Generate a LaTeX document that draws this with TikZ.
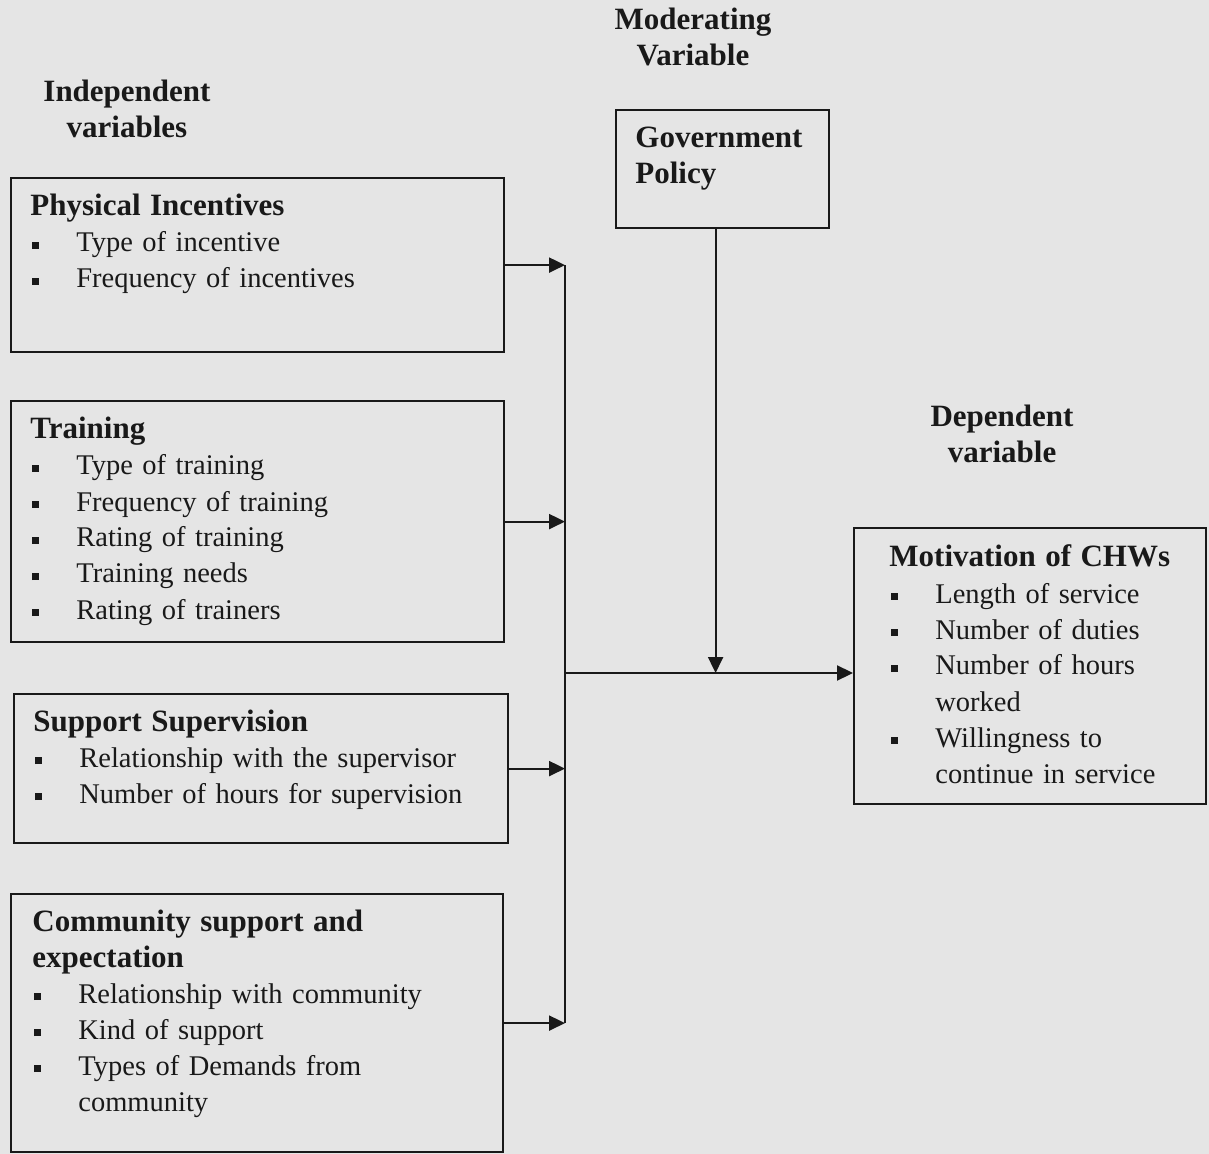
\documentclass[tikz,border=0pt]{standalone}
\usepackage{fontspec}
\setmainfont{Liberation Serif}
\usetikzlibrary{arrows.meta,positioning,calc}

\definecolor{paper}{gray}{0.9}
\definecolor{ink}{gray}{0.1}

% bullet item and hanging indent
\newcommand{\bul}{\makebox[23pt][l]{\hspace{1pt}\rule[1.5pt]{3.5pt}{3.5pt}}}
\newcommand{\cont}{\hspace*{23pt}}
\newcommand{\hfont}{\fontsize{15.5}{18}\selectfont\bfseries}

\begin{document}
\begin{tikzpicture}[x=0.5pt,y=-0.5pt,
  box/.style={draw=ink,line width=1.1pt,inner sep=0pt,anchor=north west},
  txt/.style={anchor=base west,inner sep=0pt,text width=230pt,align=left,text=ink,
    font=\fontsize{14.25}{18}\selectfont},
  hd/.style={anchor=base,inner sep=0pt,text width=140pt,align=center,text=ink,font=\hfont},
  arr/.style={draw=ink,line width=1.1pt,-{Triangle[length=8pt,width=7.5pt]}},
  bus/.style={draw=ink,line width=1.1pt}]
  \fill[paper] (0,0) rectangle (1209,1154);
  \useasboundingbox (0,0) rectangle (1209,1154);

  % headings
  \node[hd] (indep) at (127,102) {Independent\\variables};
  \node[hd] (moder) at (693,30) {Moderating\\Variable};
  \node[hd] (dep) at (1002,427) {Dependent\\variable};

  % boxes
  \node[box,minimum width=246.5pt,minimum height=87pt] (phys) at (10,177) {};
  \node[box,minimum width=246.5pt,minimum height=120.5pt] (train) at (10,400) {};
  \node[box,minimum width=247pt,minimum height=74.5pt] (superv) at (13,693) {};
  \node[box,minimum width=246pt,minimum height=129pt] (comm) at (10,893) {};
  \node[box,minimum width=106.5pt,minimum height=59pt] (gov) at (615,109) {};
  \node[box,minimum width=176pt,minimum height=138pt] (motiv) at (853,527) {};

  % box texts
  \node[txt] (phys-t) at (30,216) {{\hfont Physical Incentives}\\
    \bul Type of incentive\\
    \bul Frequency of incentives};
  \node[txt] (train-t) at (30,439) {{\hfont Training}\\
    \bul Type of training\\
    \bul Frequency of training\\
    \bul Rating of training\\
    \bul Training needs\\
    \bul Rating of trainers};
  \node[txt] (superv-t) at (33,731) {{\hfont Support Supervision}\\
    \bul Relationship with the supervisor\\
    \bul Number of hours for supervision};
  \node[txt] (comm-t) at (32,931) {{\hfont Community support and}\\
    {\hfont expectation}\\
    \bul Relationship with community\\
    \bul Kind of support\\
    \bul Types of Demands from\\
    \cont community};
  \node[txt] (gov-t) at (635,148) {{\hfont Government}\\
    {\hfont Policy}};
  \node[txt] (motiv-t) at (889,567) {{\hfont Motivation of CHWs}\\
    \bul Length of service\\
    \bul Number of duties\\
    \bul Number of hours\\
    \cont worked\\
    \bul Willingness to\\
    \cont continue in service};

  % connectors
  \coordinate (busx) at (565,0);
  \coordinate (join) at (565,673);
  \foreach \b in {phys,train,superv,comm}
    \draw[arr] (\b.east) -- (\b.east -| busx);
  \draw[bus] (phys.east -| busx) -- (comm.east -| busx);
  \draw[arr] (join) -- (join -| motiv.west);
  \draw[arr] ([xshift=-3.5pt]gov.south) -- ([xshift=-3.5pt]gov.south |- join);
\end{tikzpicture}
\end{document}
